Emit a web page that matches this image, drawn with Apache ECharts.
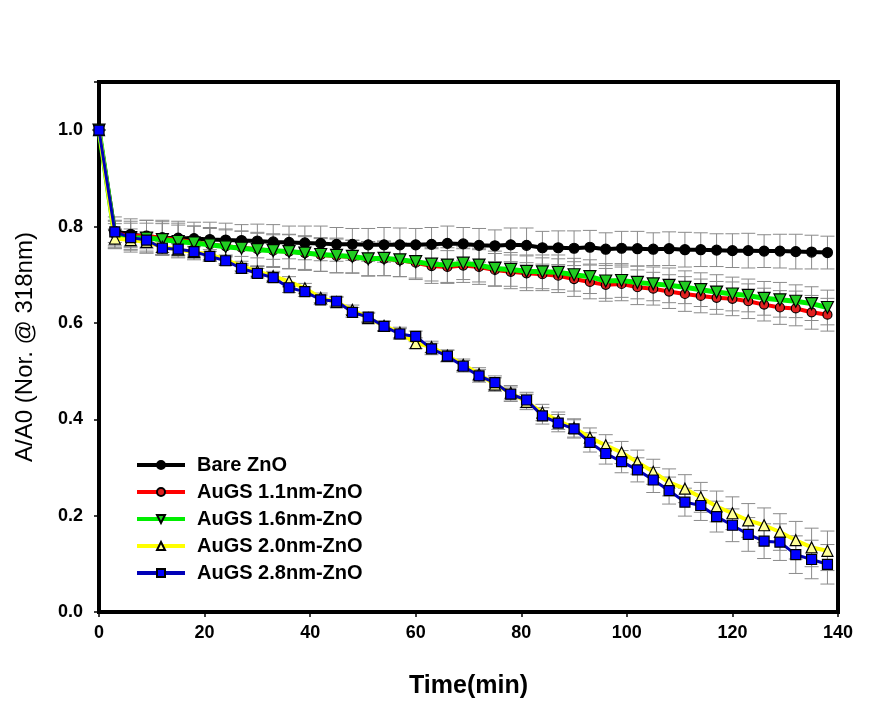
<!DOCTYPE html>
<html><head><meta charset="utf-8">
<script src="https://cdn.jsdelivr.net/npm/echarts@6/dist/echarts.min.js"></script>
<style>html,body{margin:0;padding:0;background:#fff}#c{width:881px;height:707px}</style>
</head><body><div id="c"></div>
<script>
const times = [0,3,6,9,12,15,18,21,24,27,30,33,36,39,42,45,48,51,54,57,60,63,66,69,72,75,78,81,84,87,90,93,96,99,102,105,108,111,114,117,120,123,126,129,132,135,138];
const seriesNames = ['Bare ZnO','AuGS 1.1nm-ZnO','AuGS 1.6nm-ZnO','AuGS 2.0nm-ZnO','AuGS 2.8nm-ZnO'];
const bareZnO = [1.000,0.790,0.784,0.779,0.777,0.776,0.775,0.773,0.772,0.771,0.770,0.768,0.767,0.766,0.765,0.763,0.763,0.762,0.762,0.762,0.762,0.763,0.765,0.764,0.761,0.760,0.762,0.761,0.756,0.756,0.755,0.757,0.753,0.755,0.754,0.753,0.754,0.752,0.752,0.751,0.750,0.750,0.749,0.749,0.748,0.747,0.746];
const auGS11 = [1.000,0.785,0.781,0.781,0.776,0.772,0.768,0.763,0.759,0.756,0.753,0.750,0.748,0.745,0.741,0.739,0.737,0.733,0.733,0.730,0.725,0.718,0.716,0.719,0.716,0.710,0.706,0.703,0.701,0.698,0.691,0.685,0.679,0.681,0.674,0.671,0.665,0.660,0.656,0.652,0.650,0.645,0.638,0.632,0.630,0.622,0.617];
const auGS16 = [1.000,0.780,0.777,0.776,0.773,0.769,0.766,0.762,0.758,0.755,0.752,0.750,0.748,0.745,0.742,0.740,0.738,0.733,0.734,0.731,0.727,0.722,0.720,0.724,0.720,0.713,0.711,0.707,0.706,0.705,0.700,0.696,0.687,0.688,0.684,0.681,0.678,0.674,0.669,0.664,0.660,0.657,0.651,0.648,0.645,0.640,0.632];
const auGS20 = [1.000,0.775,0.772,0.768,0.758,0.752,0.747,0.742,0.731,0.718,0.707,0.697,0.686,0.672,0.652,0.643,0.627,0.610,0.594,0.580,0.558,0.550,0.532,0.513,0.494,0.472,0.455,0.436,0.414,0.397,0.382,0.362,0.346,0.331,0.311,0.291,0.269,0.256,0.238,0.219,0.205,0.190,0.180,0.166,0.149,0.134,0.127];
const auGS28 = [1.000,0.789,0.777,0.772,0.755,0.753,0.748,0.738,0.729,0.713,0.703,0.694,0.673,0.665,0.648,0.645,0.622,0.612,0.593,0.577,0.572,0.546,0.531,0.510,0.490,0.476,0.452,0.440,0.407,0.392,0.380,0.352,0.329,0.312,0.295,0.274,0.252,0.228,0.221,0.198,0.180,0.161,0.147,0.145,0.119,0.109,0.099];
const errBare = [0,0.030,0.032,0.034,0.036,0.035,0.034,0.036,0.035,0.033,0.035,0.036,0.034,0.035,0.036,0.035,0.033,0.034,0.036,0.035,0.034,0.035,0.036,0.034,0.035,0.033,0.035,0.036,0.034,0.035,0.036,0.035,0.034,0.035,0.036,0.034,0.035,0.036,0.035,0.034,0.035,0.036,0.034,0.035,0.036,0.035,0.034];
const err11 = [0,0.028,0.030,0.032,0.034,0.035,0.033,0.035,0.036,0.034,0.035,0.033,0.035,0.036,0.034,0.035,0.034,0.036,0.035,0.034,0.035,0.036,0.034,0.035,0.036,0.034,0.035,0.036,0.034,0.035,0.036,0.035,0.034,0.035,0.036,0.034,0.035,0.036,0.035,0.034,0.035,0.036,0.034,0.035,0.036,0.035,0.034];
const err16 = [0,0.026,0.030,0.031,0.033,0.034,0.035,0.034,0.035,0.036,0.034,0.035,0.036,0.034,0.035,0.036,0.034,0.035,0.036,0.035,0.034,0.035,0.036,0.034,0.035,0.036,0.035,0.034,0.035,0.036,0.034,0.035,0.036,0.035,0.034,0.035,0.036,0.034,0.035,0.036,0.035,0.034,0.035,0.036,0.034,0.035,0.036];
const err20 = [0,0.020,0.016,0.014,0.012,0.012,0.011,0.010,0.010,0.010,0.010,0.010,0.010,0.010,0.010,0.010,0.010,0.010,0.010,0.011,0.011,0.012,0.012,0.012,0.013,0.014,0.015,0.016,0.017,0.018,0.019,0.020,0.022,0.023,0.025,0.026,0.028,0.029,0.031,0.032,0.034,0.035,0.036,0.038,0.039,0.040,0.041];
const err28 = [0,0.022,0.018,0.015,0.013,0.012,0.011,0.010,0.010,0.010,0.010,0.010,0.010,0.010,0.010,0.010,0.010,0.010,0.010,0.011,0.011,0.012,0.012,0.012,0.013,0.014,0.015,0.016,0.017,0.018,0.019,0.020,0.022,0.023,0.025,0.026,0.028,0.029,0.031,0.032,0.034,0.035,0.036,0.038,0.039,0.040,0.041];
const xTicks = [0,20,40,60,80,100,120,140];
const yTicks = [0.0,0.2,0.4,0.6,0.8,1.0];

const values = [bareZnO, auGS11, auGS16, auGS20, auGS28];
const errs = [errBare, err11, err16, err20, err28];
const styles = [
  {line:'#000000', fill:'#000000', border:'#000000', symbol:'circle', size:10, rot:0, lw:4},
  {line:'#ff0000', fill:'#e02020', border:'#000000', symbol:'circle', size:9, rot:0, lw:4},
  {line:'#00ee00', fill:'#22cc22', border:'#000000', symbol:'triangle', size:12, rot:180, lw:5},
  {line:'#ffff00', fill:'#ffff99', border:'#000000', symbol:'triangle', size:11, rot:0, lw:4},
  {line:'#0000b8', fill:'#0000ff', border:'#000000', symbol:'rect', size:10, rot:0, lw:3}
];
const series = [];
values.forEach((vals, i) => {
  series.push({
    type:'custom', name:'err'+i, z:1, silent:true,
    data: times.map((t,k)=>[t, vals[k]-errs[i][k], vals[k]+errs[i][k]]),
    renderItem:(params, api) => {
      const lo = api.coord([api.value(0), api.value(1)]);
      const hi = api.coord([api.value(0), api.value(2)]);
      const w = 7;
      const st = {stroke:'#8a8a8a', lineWidth:1};
      return {type:'group', children:[
        {type:'line', shape:{x1:lo[0],y1:lo[1],x2:hi[0],y2:hi[1]}, style:st},
        {type:'line', shape:{x1:lo[0]-w,y1:lo[1],x2:lo[0]+w,y2:lo[1]}, style:st},
        {type:'line', shape:{x1:hi[0]-w,y1:hi[1],x2:hi[0]+w,y2:hi[1]}, style:st}
      ]};
    }
  });
});
values.forEach((vals, i) => {
  const s = styles[i];
  series.push({
    type:'line', name:seriesNames[i], z:3+i,
    data: times.map((t,k)=>[t, vals[k]]),
    symbol:s.symbol, symbolSize:s.size, symbolRotate:s.rot, showAllSymbol:true,
    lineStyle:{color:s.line, width:s.lw},
    itemStyle:{color:s.fill, borderColor:s.border, borderWidth:1.2},
    emphasis:{disabled:true}
  });
});

const chart = echarts.init(document.getElementById('c'), null, {renderer:'canvas'});
chart.setOption({
  animation:false,
  backgroundColor:'#ffffff',
  grid:{left:99, right:43, top:82, bottom:95, show:true, borderColor:'#000', borderWidth:4, backgroundColor:'transparent'},
  xAxis:{
    type:'value', min:xTicks[0], max:xTicks[xTicks.length-1], interval:20,
    name:'Time(min)', nameLocation:'middle', nameGap:62,
    nameTextStyle:{fontFamily:'Liberation Sans', fontWeight:'bold', fontSize:25, color:'#000'},
    axisLine:{show:true, lineStyle:{color:'#000', width:4}},
    axisTick:{show:true, length:5, lineStyle:{color:'#000', width:1.5}},
    axisLabel:{margin:12, fontFamily:'Liberation Sans', fontWeight:'bold', fontSize:18, color:'#000'},
    splitLine:{show:false}
  },
  yAxis:{
    type:'value', min:0, max:1.1, interval:0.2,
    name:'A/A0 (Nor. @ 318nm)', nameLocation:'middle', nameGap:62,
    nameTextStyle:{fontFamily:'Liberation Sans', fontSize:24, color:'#000'},
    axisLine:{show:true, lineStyle:{color:'#000', width:4}},
    axisTick:{show:true, length:5, lineStyle:{color:'#000', width:1.5}},
    axisLabel:{margin:16, fontFamily:'Liberation Sans', fontWeight:'bold', fontSize:18, color:'#000',
      formatter:(v)=>{ const m = yTicks.find(t=>Math.abs(t-v)<1e-6); return m===undefined?'':m.toFixed(1);} },
    splitLine:{show:false}
  },
  legend:{
    data:seriesNames, orient:'vertical', left:135, top:455, padding:0,
    itemWidth:48, itemHeight:10, itemGap:7,
    lineStyle:{width:4},
    textStyle:{fontFamily:'Liberation Sans', fontWeight:'bold', fontSize:20, color:'#000', padding:[0,0,0,7]},
    selectedMode:false
  },
  series: series
});
</script></body></html>
